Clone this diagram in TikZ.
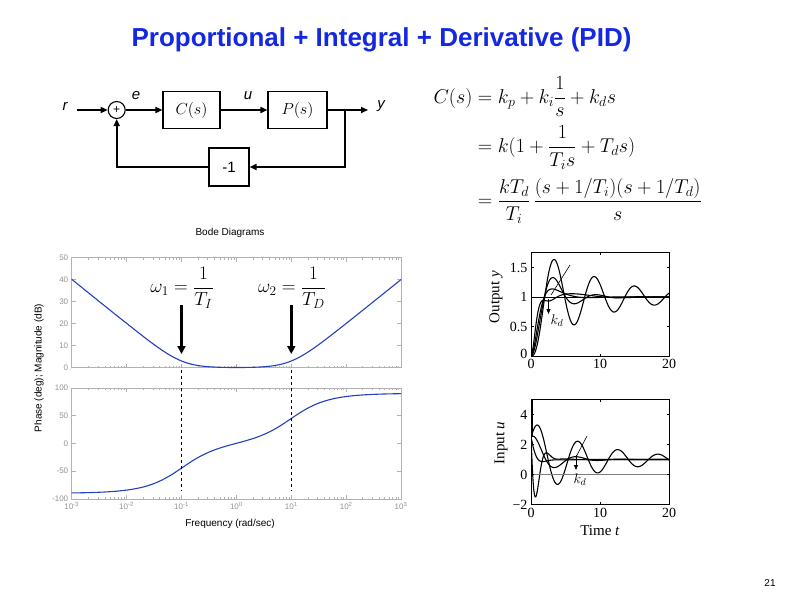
\documentclass[tikz,border=0pt]{standalone}
\usepackage{fix-cm}
\usepackage{amsmath}
\usepackage{fontspec}
\setmainfont{Liberation Sans}
\newfontfamily\timesfont{Liberation Serif}
\usetikzlibrary{arrows.meta,positioning}
\definecolor{titleblue}{RGB}{20,40,225}
\definecolor{bodeblue}{RGB}{35,65,190}
\tikzset{
  blockbox/.style={draw, line width=1.1pt, minimum height=37pt, inner sep=0pt},
  signal/.style={line width=1.6pt, -{Triangle[length=7pt,width=6pt]}},
  siglabel/.style={font=\itshape\fontsize{15}{15}\selectfont},
  bodeframe/.style={draw=gray!60, line width=0.6pt},
  bodetick/.style={gray!60, line width=0.5pt},
  bodelabel/.style={text=gray!85, font=\fontsize{8}{8}\selectfont},
  bodecurve/.style={bodeblue, line width=1.1pt},
  bigarrow/.style={line width=2.4pt, -{Triangle[length=8pt,width=8pt]}},
  respframe/.style={draw, line width=0.7pt},
  resp/.style={line width=1.1pt, line join=round},
  resplabel/.style={font=\timesfont\fontsize{14}{14}\selectfont},
  magplot/.style={shift={(236.4,367.5)}, x=54.9pt, y=2.2pt},
  phaseplot/.style={shift={(236.4,443.3)}, x=54.9pt, y=0.555pt},
  outplot/.style={shift={(531,356)}, x=6.9pt, y=59pt},
  inplot/.style={shift={(531,474.5)}, x=6.9pt, y=15pt}
}
% PID loop on P(s)=1/(s+1)^3, kp=2.5, ki=1.5, Euler steps of 0.02
\newcount\pidstep
\newcommand\pidsim[1]{%
  \def\pida{#1}\def\pidb{0}\def\pidc{0}\def\pidz{0}%
  \def\ylist{(0,0)}\def\ulist{(0,2.5)}%
  \pidstep=0
  \loop
    \advance\pidstep by 1
    \pgfmathsetmacro\pidu{2.5*(1-\pidc)+1.5*\pidz-#1*(\pidb-\pidc)}%
    \pgfmathsetmacro\pidz{\pidz+0.02*(1-\pidc)}%
    \pgfmathsetmacro\pida{\pida+0.02*(\pidu-\pida)}%
    \pgfmathsetmacro\pidb{\pidb+0.02*(\pida-\pidb)}%
    \pgfmathsetmacro\pidc{\pidc+0.02*(\pidb-\pidc)}%
    \ifnum\numexpr\pidstep-\pidstep/5*5\relax=0
      \pgfmathsetmacro\pidt{\pidstep*0.02}%
      \edef\ylist{\ylist -- (\pidt,\pidc)}%
      \edef\ulist{\ulist -- (\pidt,\pidu)}%
    \fi
  \ifnum\pidstep<1000 \repeat
}
\begin{document}
\begin{tikzpicture}[x=1pt, y=-1pt]
\useasboundingbox[fill=white] (0,0) rectangle (799,599);

\node[font=\bfseries\fontsize{26}{30}\selectfont, text=titleblue] (title) at (381.5,40) {Proportional + Integral + Derivative (PID)};

% block diagram
\node[draw, circle, line width=1.1pt, minimum size=17pt, inner sep=0pt, font=\fontsize{12}{12}\selectfont] (sum) at (116.7,110) {+};
\node[blockbox, minimum width=57pt, font=\fontsize{16}{16}\selectfont] (cbox) at (191.5,110) {$C(s)$};
\node[blockbox, minimum width=59pt, font=\fontsize{16}{16}\selectfont] (pbox) at (297.5,110) {$P(s)$};
\node[blockbox, minimum width=40pt, minimum height=38pt, font=\fontsize{15}{15}\selectfont] (gbox) at (229,167) {-1};
\coordinate (rin) at (77,110);
\coordinate (yout) at (368,110);
\coordinate (branch) at (345,110);
\draw[signal] (rin) -- (sum);
\draw[signal] (sum) -- (cbox);
\draw[signal] (cbox) -- (pbox);
\draw[signal] (pbox) -- (yout);
\draw[signal] (branch) |- (gbox);
\draw[signal] (gbox) -| (sum);
\node[siglabel] (rlab) at (65,106) {r};
\node[siglabel] (elab) at (136,96) {e};
\node[siglabel] (ulab) at (248,96) {u};
\node[siglabel] (ylab) at (381,106) {y};

% controller
\node[anchor=west, font=\fontsize{20}{24}\selectfont] (ceq) at (430,150) {$\begin{aligned}
C(s) &= k_p + k_i\frac{1}{s} + k_d s\\[5pt]
&= k(1 + \frac{1}{T_i s} + T_d s)\\[5pt]
&= \frac{kT_d}{T_i}\,\frac{(s+1/T_i)(s+1/T_d)}{s}
\end{aligned}$};

% bode diagrams
\node[font=\fontsize{10}{10}\selectfont] (bodetitle) at (230,233) {Bode Diagrams};
\node[font=\fontsize{10}{10}\selectfont, rotate=90] (bodey) at (39,368) {Phase (deg); Magnitude (dB)};
\node[font=\fontsize{10}{10}\selectfont] (bodex) at (230,524) {Frequency (rad/sec)};
\begin{scope}[magplot]
  \foreach \d in {-3,...,2}
    \foreach \m in {2,...,9} {
      \draw[bodetick] ({\d+log10(\m)},0) -- ++(0,2pt);
      \draw[bodetick] ({\d+log10(\m)},50) -- ++(0,-2pt);
    }
  \foreach \d in {-3,...,3} {
    \draw[bodetick] (\d,0) -- ++(0,4pt);
    \draw[bodetick] (\d,50) -- ++(0,-4pt);
  }
  \foreach \v in {0,10,...,50} {
    \draw[bodetick] (-3,\v) -- ++(4pt,0);
    \draw[bodetick] (3,\v) -- ++(-4pt,0);
    \node[bodelabel, anchor=east] at (-3,\v) {\v};
  }
  \draw[bodeframe] (-3,0) rectangle (3,50);
  \draw[bodecurve] plot[domain=-3:3, samples=121, smooth] (\x, {10*log10(1+(0.1*pow(10,\x)-0.1/pow(10,\x))^2)});
\end{scope}
\begin{scope}[phaseplot]
  \foreach \d in {-3,...,2}
    \foreach \m in {2,...,9} {
      \draw[bodetick] ({\d+log10(\m)},-100) -- ++(0,2pt);
      \draw[bodetick] ({\d+log10(\m)},100) -- ++(0,-2pt);
    }
  \foreach \d in {-3,...,3} {
    \draw[bodetick] (\d,-100) -- ++(0,4pt);
    \draw[bodetick] (\d,100) -- ++(0,-4pt);
    \node[bodelabel, anchor=north] at (\d,-100) {10\textsuperscript{\d}};
  }
  \foreach \v in {-100,-50,...,100} {
    \draw[bodetick] (-3,\v) -- ++(4pt,0);
    \draw[bodetick] (3,\v) -- ++(-4pt,0);
    \node[bodelabel, anchor=east] at (-3,\v) {\v};
  }
  \draw[bodeframe] (-3,-100) rectangle (3,100);
  \draw[bodecurve] plot[domain=-3:3, samples=121, smooth] (\x, {atan(0.1*pow(10,\x)-0.1/pow(10,\x))});
\end{scope}
\coordinate (wone top) at (181.5,305);
\coordinate (wone tip) at (181.5,354);
\coordinate (wone dash) at (181.5,370);
\coordinate (wone end) at (181.5,491);
\coordinate (wtwo top) at (291.3,305);
\coordinate (wtwo tip) at (291.3,354);
\coordinate (wtwo dash) at (291.3,370);
\coordinate (wtwo end) at (291.3,491);
\draw[bigarrow] (wone top) -- (wone tip);
\draw[bigarrow] (wtwo top) -- (wtwo tip);
\draw[dashed, line width=0.9pt] (wone dash) -- (wone end);
\draw[dashed, line width=0.9pt] (wtwo dash) -- (wtwo end);
\node[font=\fontsize{19}{19}\selectfont] (wone) at (182,288) {$\omega_1 = \dfrac{1}{T_I}$};
\node[font=\fontsize{19}{19}\selectfont] (wtwo) at (292,288) {$\omega_2 = \dfrac{1}{T_D}$};

% step responses
\foreach \kd in {0,1,2,4} {
  \pidsim{\kd}
  \begin{scope}[outplot]
    \clip (0,0) rectangle (20,1.75);
    \edef\pidpath{\noexpand\draw[resp] \ylist;}\pidpath
  \end{scope}
  \begin{scope}[inplot]
    \clip (0,-2) rectangle (20,5);
    \edef\pidpath{\noexpand\draw[resp] \ulist;}\pidpath
  \end{scope}
}
\begin{scope}[outplot]
  \draw[line width=0.6pt] (0,1) -- (20,1);
  \draw[respframe] (0,0) rectangle (20,1.75);
  \foreach \v in {0.5,1,1.5} {
    \draw[line width=0.5pt] (0,\v) -- ++(2.5pt,0);
    \draw[line width=0.5pt] (20,\v) -- ++(-2.5pt,0);
    \node[resplabel, anchor=east] at (0,\v) {\v};
  }
  \node[resplabel, anchor=east] at (0,0.03) {0};
  \draw[line width=0.5pt] (10,0) -- ++(0,2.5pt);
  \draw[line width=0.5pt] (10,1.75) -- ++(0,-2.5pt);
  \foreach \t in {0,10,20}
    \node[resplabel, anchor=north] at (\t,0) {\t};
\end{scope}
\begin{scope}[inplot]
  \draw[line width=0.5pt, gray] (0,0) -- (20,0);
  \draw[line width=2.6pt] (0.12,2.5) -- (0.12,5);
  \draw[respframe] (0,-2) rectangle (20,5);
  \foreach \v in {-2,0,2,4} {
    \draw[line width=0.5pt] (0,\v) -- ++(2.5pt,0);
    \draw[line width=0.5pt] (20,\v) -- ++(-2.5pt,0);
  }
  \foreach \v in {0,2,4}
    \node[resplabel, anchor=east] at (0,\v) {\v};
  \node[resplabel, anchor=east] at (0,-2) {\textminus2};
  \draw[line width=0.5pt] (10,-2) -- ++(0,2.5pt);
  \draw[line width=0.5pt] (10,5) -- ++(0,-2.5pt);
  \foreach \t in {0,10,20}
    \node[resplabel, anchor=north] at (\t,-2) {\t};
\end{scope}
\node[resplabel, font=\timesfont\fontsize{15}{15}\selectfont, rotate=90] (outy) at (496,297) {Output \textit{y}};
\node[resplabel, font=\timesfont\fontsize{15}{15}\selectfont, rotate=90] (inu) at (501,443) {Input \textit{u}};
\node[resplabel, font=\timesfont\fontsize{15}{15}\selectfont] (timet) at (600,531) {Time \textit{t}};
\coordinate (ykd a) at (570,265);
\coordinate (ykd b) at (551,295);
\coordinate (ykd top) at (548.5,299);
\coordinate (ykd tip) at (548.5,314);
\coordinate (ukd a) at (587,436);
\coordinate (ukd b) at (576,457);
\coordinate (ukd top) at (576,455);
\coordinate (ukd tip) at (576,470);
\draw[line width=0.6pt] (ykd a) -- (ykd b);
\draw[line width=0.8pt, -{Triangle[length=5pt,width=4pt]}] (ykd top) -- (ykd tip);
\draw[line width=0.6pt] (ukd a) -- (ukd b);
\draw[line width=0.8pt, -{Triangle[length=5pt,width=4pt]}] (ukd top) -- (ukd tip);
\node[font=\fontsize{14}{14}\selectfont] (ykd) at (557,321) {$k_d$};
\node[font=\fontsize{14}{14}\selectfont] (ukd) at (580,480) {$k_d$};

\node[font=\fontsize{10}{10}\selectfont] (pageno) at (770,583) {21};
\end{tikzpicture}
\end{document}
